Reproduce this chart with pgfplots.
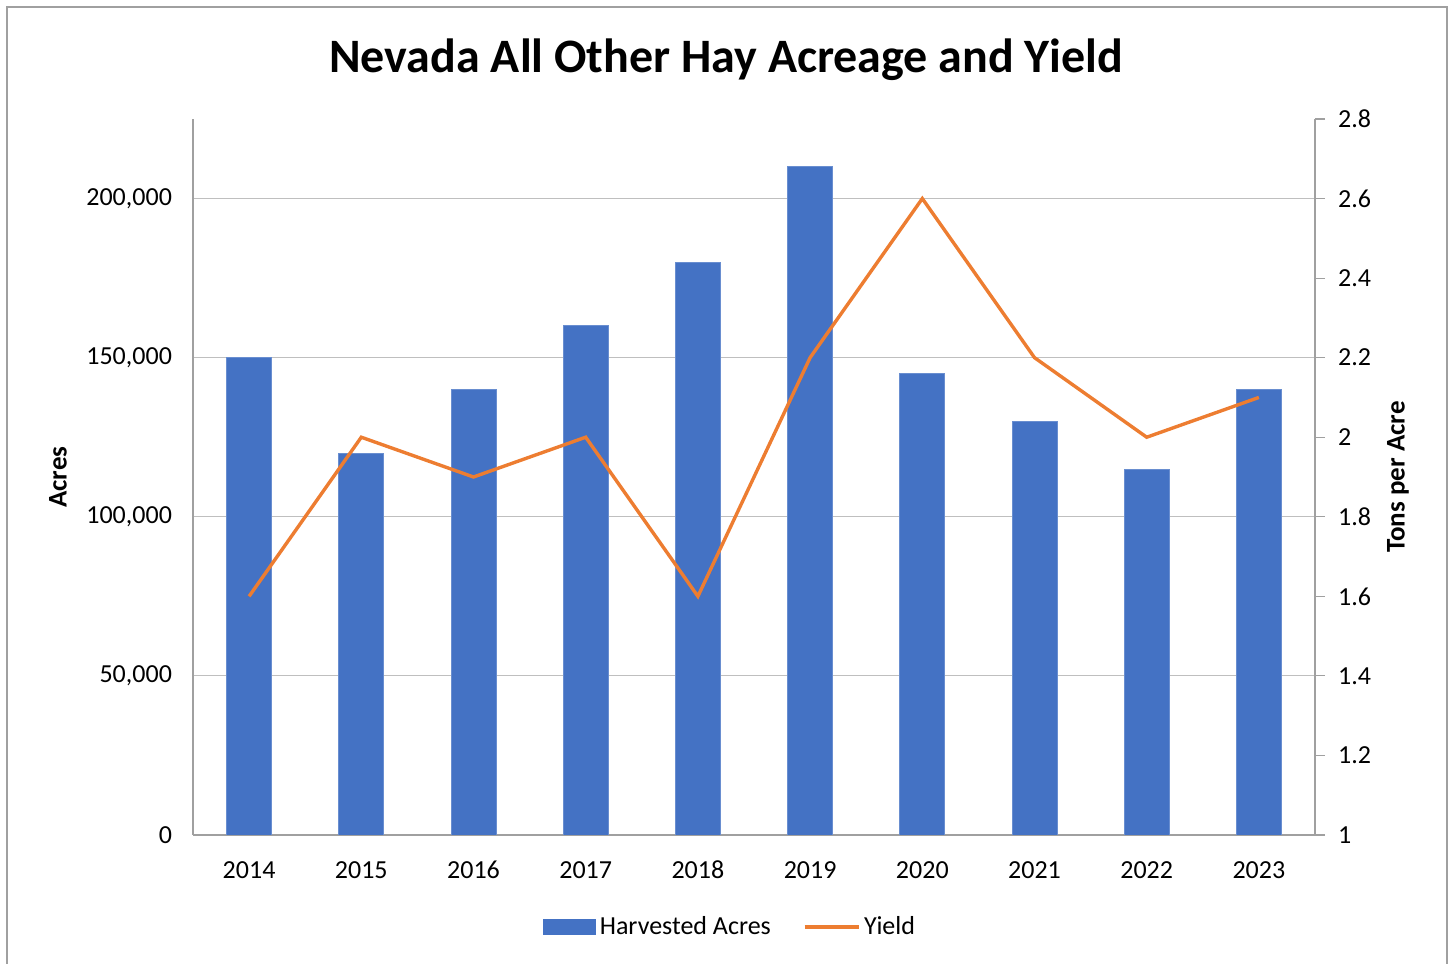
\documentclass[border=0pt]{standalone}
\usepackage{pgfplots}
\pgfplotsset{compat=1.18}
\usepackage{fontspec}
\setmainfont{Carlito}
\definecolor{barblue}{HTML}{4472C4}
\definecolor{lineorange}{HTML}{ED7D31}
\definecolor{gridgray}{RGB}{191,191,191}
\definecolor{axisgray}{RGB}{160,160,160}
\begin{document}
\begin{tikzpicture}
\useasboundingbox (0,0) rectangle (726pt,482pt);
\draw[axisgray, line width=0.6pt] (3.5pt,0) -- (3.5pt,478.5pt) -- (723.5pt,478.5pt) -- (723.5pt,0);
\node[font=\fontsize{24}{28}\selectfont\bfseries] at (363pt,452pt) {Nevada All Other Hay Acreage and Yield};
\begin{axis}[
    at={(96.5pt,64.5pt)}, anchor=south west,
    scale only axis, width=561pt, height=358pt,
    xmin=-0.5, xmax=9.5, ymin=0, ymax=225000,
    axis x line*=bottom, axis y line*=left,
    axis line style={axisgray, line width=0.6pt},
    x axis line style={-}, y axis line style={-},
    ybar, bar width=22.5pt,
    xtick={0,...,9},
    xticklabels={2014,2015,2016,2017,2018,2019,2020,2021,2022,2023},
    major x tick style={draw=none},
    extra x ticks={-0.5,0.5,...,9.5}, extra x tick labels={},
    extra x tick style={major tick length=6pt, tick align=outside, tick style={axisgray, line width=0.6pt}, grid=none},
    ytick={0,50000,100000,150000,200000},
    major y tick style={draw=none},
    ymajorgrids, grid style={gridgray, line width=0.6pt},
    scaled y ticks=false,
    yticklabel style={/pgf/number format/fixed, /pgf/number format/1000 sep={,}},
    /pgf/number format/assume math mode=true,
    tick label style={font=\fontsize{13}{15}\selectfont},
    yticklabel style={xshift=-7pt},
    xticklabel style={yshift=-5pt, text height=9pt, text depth=2pt},
    ylabel={\textbf{Acres}},
    every axis y label/.style={at={(rel axis cs:-0.1203,0.5)}, rotate=90, anchor=center, font=\fontsize{13.5}{16}\selectfont},
]
\addplot[fill=barblue, draw=barblue!80!white] coordinates {
    (0,150000)(1,120000)(2,140000)(3,160000)(4,180000)
    (5,210000)(6,145000)(7,130000)(8,115000)(9,140000)};
\end{axis}
\begin{axis}[
    at={(96.5pt,64.5pt)}, anchor=south west,
    scale only axis, width=561pt, height=358pt,
    xmin=-0.5, xmax=9.5, ymin=1, ymax=2.8,
    axis x line=none, axis y line*=right,
    axis line style={axisgray, line width=0.6pt, -},
    ytick={1,1.2,1.4,1.6,1.8,2,2.2,2.4,2.6,2.8},
    yticklabels={1,1.2,1.4,1.6,1.8,2,2.2,2.4,2.6,2.8},
    major tick length=5pt, tick align=outside,
    tick style={axisgray, line width=0.6pt},
    tick label style={font=\fontsize{13}{15}\selectfont},
    yticklabel style={xshift=3pt},
    ylabel={\textbf{Tons per Acre}},
    every axis y label/.style={at={(rel axis cs:1.074,0.5)}, rotate=90, anchor=center, font=\fontsize{13.5}{16}\selectfont},
    legend columns=2,
    legend style={at={(0.4795,-0.1285)}, anchor=center, draw=none,
        font=\fontsize{13}{15}\selectfont, /tikz/every even column/.append style={column sep=14pt}},
]
\addlegendimage{legend image code/.code={\fill[barblue] (0pt,-3.7pt) rectangle (26pt,3.7pt);}}
\addlegendentry{Harvested Acres}
\addplot[lineorange, line width=1.7pt, mark=none,
    legend image code/.code={\draw[lineorange, line width=1.7pt] (0pt,0pt) -- (27pt,0pt);}] coordinates {
    (0,1.6)(1,2.0)(2,1.9)(3,2.0)(4,1.6)(5,2.2)(6,2.6)(7,2.2)(8,2.0)(9,2.1)};
\addlegendentry{Yield}
\end{axis}
\end{tikzpicture}
\end{document}
